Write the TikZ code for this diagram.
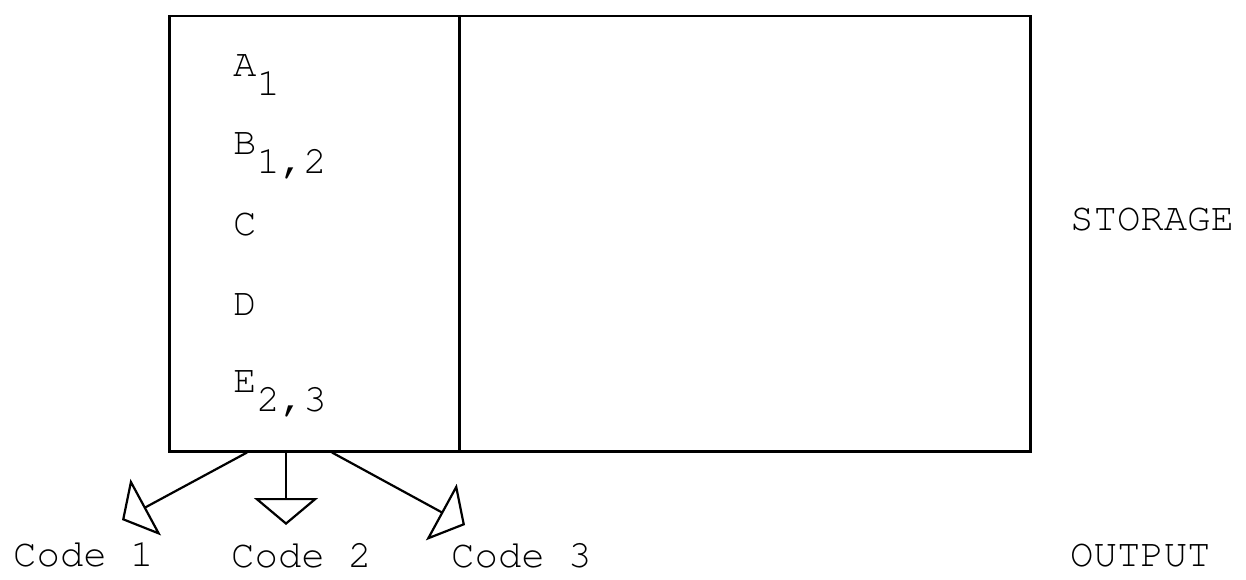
\documentclass[tikz,border=0pt]{standalone}
\usepackage[T1]{fontenc}
\usepackage{courier}
\usetikzlibrary{arrows.meta}

\begin{document}
\begin{tikzpicture}[x=1pt,y=-1pt,
	lbl/.style={draw=none,fill=none,font=\fontsize{39}{42}\selectfont\ttfamily,anchor=base west,inner sep=0pt},
	cell/.style={draw,line width=2.5pt,inner sep=0pt,anchor=north west,minimum height=435pt},
	outarrow/.style={line width=2.2pt,-{Triangle[open,length=27pt,width=64pt,line width=2.2pt]}}]
	\useasboundingbox (0,0) rectangle (1246,580);
	
	\node[cell,minimum width=290pt] (left) at (168,15) {};
	\node[cell,minimum width=571pt] (right) at (458,15) {};
	
	\node[lbl] (a) at (233,77) {A\raisebox{-19pt}{1}};
	\node[lbl] (b) at (233,155) {B\raisebox{-19pt}{1,2}};
	\node[lbl] (c) at (233,235) {C};
	\node[lbl] (d) at (233,315) {D};
	\node[lbl] (e) at (233,392) {E\raisebox{-19pt}{2,3}};
	
	\node[lbl] (storage) at (1070,230) {STORAGE};
	\node[lbl] (output) at (1070,566) {OUTPUT};
	
	\node[lbl] (code1) at (13,566) {Code 1};
	\node[lbl] (code2) at (231,567) {Code 2};
	\node[lbl] (code3) at (451,567) {Code 3};
	
	\coordinate (tip1) at (122,520);
	\coordinate (tip2) at (286,525);
	\coordinate (tip3) at (465,525);
	\draw[outarrow] ([xshift=79pt]left.south west) -- (tip1);
	\draw[outarrow] ([xshift=118pt]left.south west) -- (tip2);
	\draw[outarrow] ([xshift=164pt]left.south west) -- (tip3);
\end{tikzpicture}
\end{document}
